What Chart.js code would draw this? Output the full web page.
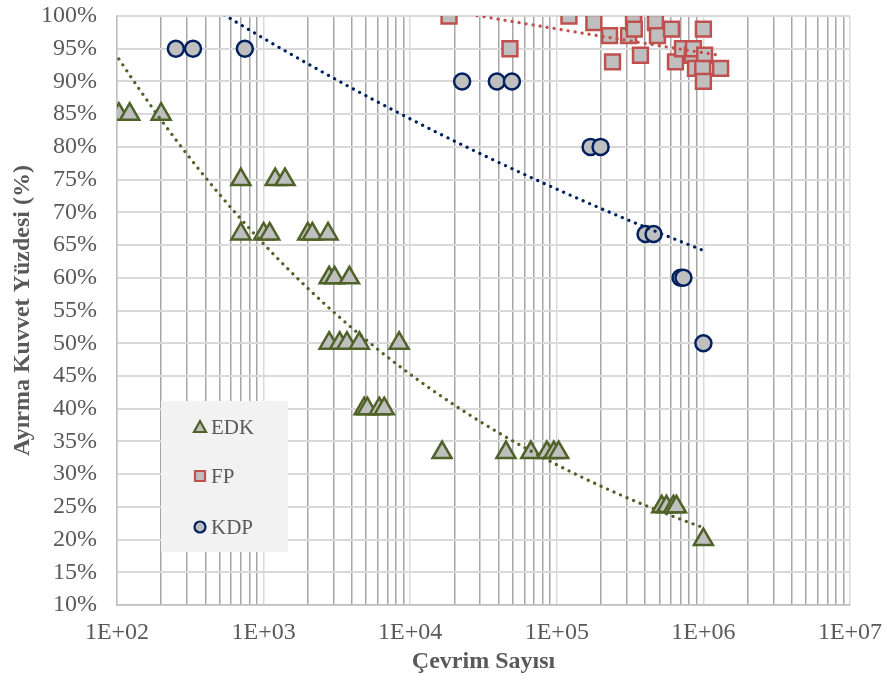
<!DOCTYPE html>
<html>
<head>
<meta charset="utf-8">
<script src="https://cdn.jsdelivr.net/npm/chart.js@4.4.1/dist/chart.umd.min.js"></script>
<style>
  html, body { margin: 0; padding: 0; background: #fff; }
  #wrap { width: 887px; height: 684px; position: relative; }
</style>
</head>
<body>
<div id="wrap"><canvas id="fatigueChart" width="887" height="684"></canvas></div>
<script>
// cycle counts (x) and percent of separation force (y)
const edkX = [103, 122, 200, 700, 1200, 1400, 700, 1000, 1100, 2000, 2150, 2750, 2800, 3050, 3850,
              2800, 3300, 3700, 4500, 8400, 4850, 5100, 6150, 6650,
              16500, 45000, 66500, 85500, 95500, 103000, 520000, 560000, 625000, 655000, 1000000];
const edkY = [85, 85, 85, 75, 75, 75, 66.7, 66.7, 66.7, 66.7, 66.7, 66.7, 60, 60, 60,
              50, 50, 50, 50, 50, 40, 40, 40, 40,
              33.3, 33.3, 33.3, 33.3, 33.3, 33.3, 25, 25, 25, 25, 20];

const fpX = [18400, 47900, 121000, 179000, 229000, 240000, 309000, 334000, 334000, 338000, 372000,
             471000, 486000, 606000, 645000, 720000, 840000, 855000, 883000, 1000000, 1020000,
             990000, 1000000, 1310000];
const fpY = [100, 95, 100, 99, 97, 93, 97, 100, 99, 98, 94,
             99, 97, 98, 93, 95, 94, 95, 92, 98, 94,
             92, 90, 92];

const kdpX = [252, 330, 745, 22600, 39000, 49400, 170000, 199000, 403000, 457000, 698000, 731000, 1000000];
const kdpY = [95, 95, 95, 90, 90, 90, 80, 80, 66.7, 66.7, 60, 60, 50];

const seriesNames = ['EDK', 'FP', 'KDP'];
const decadeLabels = ['1E+02', '1E+03', '1E+04', '1E+05', '1E+06', '1E+07'];

const GREEN = '#4F6228';
const RED = '#C0504D';
const NAVY = '#002060';
const FILL = '#BFBFBF';
const TEXT = '#595959';
const FONT = "'Liberation Serif', 'Times New Roman', serif";

function toPoints(xs, ys) {
    return xs.map((x, i) => ({ x: x, y: ys[i] }));
}

// Excel-style power trendline (least squares on ln x / ln y)
function powerTrend(xs, ys) {
    const n = xs.length;
    let sx = 0, sy = 0, sxx = 0, sxy = 0;
    for (let i = 0; i < n; i++) {
        const lx = Math.log(xs[i]), ly = Math.log(ys[i]);
        sx += lx; sy += ly; sxx += lx * lx; sxy += lx * ly;
    }
    const b = (n * sxy - sx * sy) / (n * sxx - sx * sx);
    const a = Math.exp((sy - b * sx) / n);
    const lo = Math.log10(Math.min(...xs)), hi = Math.log10(Math.max(...xs));
    const pts = [];
    for (let k = 0; k <= 120; k++) {
        const x = Math.pow(10, lo + (hi - lo) * k / 120);
        pts.push({ x: x, y: a * Math.pow(x, b) });
    }
    return pts;
}

function markerSet(label, xs, ys, color, style, radius) {
    return {
        label: label,
        data: toPoints(xs, ys),
        pointStyle: style,
        pointRadius: radius,
        pointHoverRadius: radius,
        pointBackgroundColor: FILL,
        pointBorderColor: color,
        pointBorderWidth: 2.5,
        showLine: false,
        order: 2
    };
}

function trendSet(xs, ys, color) {
    return {
        label: 'trend',
        data: powerTrend(xs, ys),
        showLine: true,
        pointRadius: 0,
        borderColor: color,
        borderWidth: 3.2,
        borderDash: [0.1, 7],
        borderCapStyle: 'round',
        tension: 0,
        order: 1
    };
}

function isDecade(v) {
    const l = Math.log10(v);
    return Math.abs(l - Math.round(l)) < 1e-9;
}

// legend box drawn inside the plot, like the original
const boxLegend = {
    id: 'boxLegend',
    afterDraw(chart) {
        const ctx = chart.ctx;
        ctx.save();
        ctx.fillStyle = '#F2F2F2';
        ctx.fillRect(161, 401, 127, 151);
        const rows = [
            { name: seriesNames[0], color: GREEN, shape: 'triangle', y: 427 },
            { name: seriesNames[1], color: RED, shape: 'rect', y: 476 },
            { name: seriesNames[2], color: NAVY, shape: 'circle', y: 527 }
        ];
        rows.forEach(r => {
            const cx = 200, cy = r.y;
            ctx.beginPath();
            if (r.shape === 'triangle') {
                ctx.moveTo(cx, cy - 6);
                ctx.lineTo(cx + 6, cy + 5);
                ctx.lineTo(cx - 6, cy + 5);
                ctx.closePath();
            } else if (r.shape === 'rect') {
                ctx.rect(cx - 5, cy - 5, 10, 10);
            } else {
                ctx.arc(cx, cy, 5.5, 0, Math.PI * 2);
            }
            ctx.fillStyle = FILL;
            ctx.fill();
            ctx.lineWidth = 2.2;
            ctx.strokeStyle = r.color;
            ctx.stroke();
            ctx.fillStyle = TEXT;
            ctx.font = '21px ' + FONT;
            ctx.textBaseline = 'middle';
            ctx.textAlign = 'left';
            ctx.fillText(r.name, 211, cy + 1);
        });
        ctx.restore();
    }
};

const ctx = document.getElementById('fatigueChart').getContext('2d');

new Chart(ctx, {
    type: 'scatter',
    data: {
        datasets: [
            markerSet(seriesNames[0], edkX, edkY, GREEN, 'triangle', 11),
            markerSet(seriesNames[1], fpX, fpY, RED, 'rect', 10.5),
            markerSet(seriesNames[2], kdpX, kdpY, NAVY, 'circle', 8),
            trendSet(edkX, edkY, GREEN),
            trendSet(fpX, fpY, RED),
            trendSet(kdpX, kdpY, NAVY)
        ]
    },
    options: {
        responsive: false,
        animation: false,
        layout: { padding: { top: 16, right: 37, left: 0, bottom: 0 } },
        plugins: {
            legend: { display: false },
            tooltip: { enabled: false }
        },
        scales: {
            x: {
                type: 'logarithmic',
                min: 100,
                max: 1e7,
                afterBuildTicks: (scale) => {
                    const ticks = [];
                    for (let e = 2; e < 7; e++) {
                        for (let m = 1; m < 10; m++) ticks.push({ value: m * Math.pow(10, e) });
                    }
                    ticks.push({ value: 1e7 });
                    scale.ticks = ticks;
                },
                afterFit: (scale) => {
                    scale.height = 79;
                    // keep the plot edge fixed, labels may overhang
                    scale.paddingLeft = 0;
                    scale.paddingRight = 0;
                },
                ticks: {
                    autoSkip: false,
                    maxRotation: 0,
                    padding: 13,
                    color: TEXT,
                    font: { family: FONT, size: 24 },
                    callback: (v) => isDecade(v) ? decadeLabels[Math.round(Math.log10(v)) - 2] : ''
                },
                grid: {
                    drawTicks: false,
                    color: (c) => isDecade(c.tick.value) ? '#D9D9D9' : '#A6A6A6',
                    lineWidth: 1.5
                },
                border: { color: '#BFBFBF', width: 1.5 },
                title: {
                    display: true,
                    text: 'Çevrim Sayısı',
                    color: TEXT,
                    font: { family: FONT, size: 24, weight: 'bold' },
                    padding: { top: 8, bottom: 8 }
                }
            },
            y: {
                min: 10,
                max: 100,
                afterFit: (scale) => {
                    scale.width = 117;
                    scale.paddingTop = 0;
                    scale.paddingBottom = 0;
                },
                ticks: {
                    stepSize: 5,
                    autoSkip: false,
                    padding: 20,
                    color: TEXT,
                    font: { family: FONT, size: 24 },
                    callback: (v) => v + '%'
                },
                grid: {
                    drawTicks: false,
                    color: '#D9D9D9',
                    lineWidth: 2
                },
                border: { color: '#BFBFBF', width: 1.5 },
                title: {
                    display: true,
                    text: 'Ayırma Kuvvet Yüzdesi (%)',
                    color: TEXT,
                    font: { family: FONT, size: 24, weight: 'bold' },
                    padding: { top: 8, bottom: 8 }
                }
            }
        }
    },
    plugins: [boxLegend]
});
</script>
</body>
</html>
